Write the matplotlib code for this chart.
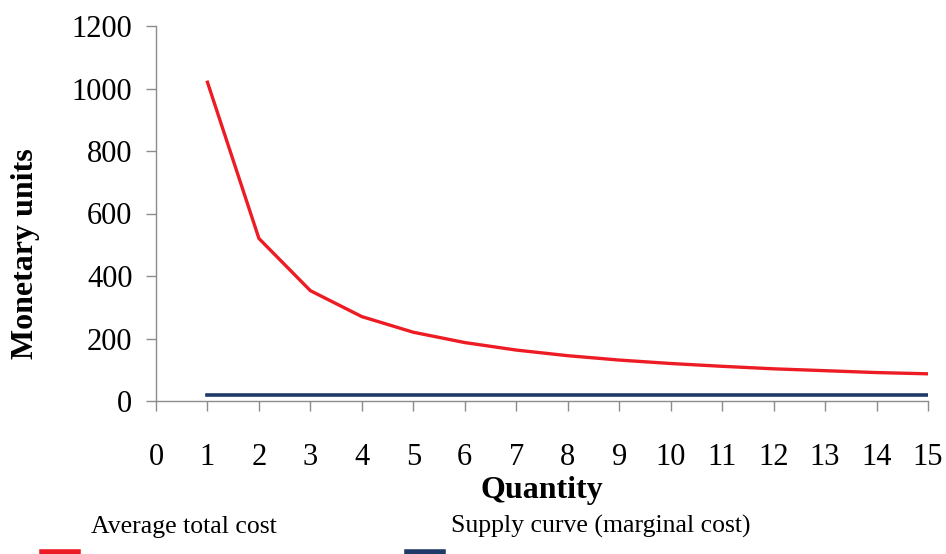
import matplotlib
matplotlib.use('Agg')
import matplotlib.pyplot as plt
from matplotlib.lines import Line2D

quantity = [1, 2, 3, 4, 5, 6, 7, 8, 9, 10, 11, 12, 13, 14, 15]
avg_total_cost = [1020, 520, 353, 270, 220, 187, 163, 145, 131, 120, 111, 103, 97, 91, 87]
marginal_cost = [20, 20, 20, 20, 20, 20, 20, 20, 20, 20, 20, 20, 20, 20, 20]
xticks = list(range(0, 16))
yticks = [0, 200, 400, 600, 800, 1000, 1200]

red = '#ED1C24'
navy = '#1F3A68'
gray = '#8C8C8C'

plt.rc('font', family='Liberation Serif')

fig = plt.figure(figsize=(9.46, 5.54), dpi=100)
ax = fig.add_axes([156 / 946, 1 - 401 / 554, (928 - 156) / 946, (401 - 26) / 554])

ax.plot(quantity, avg_total_cost, color=red, lw=2.4, solid_joinstyle='miter')
ax.plot(quantity, marginal_cost, color=navy, lw=2.6)

ax.set_xlim(0, 15)
ax.set_ylim(0, 1200)
ax.set_xticks(xticks)
ax.set_yticks(yticks)
ax.tick_params(axis='x', length=7, width=1, color=gray, pad=23, labelsize=22)
ax.tick_params(axis='y', length=7, width=1, color=gray, pad=10, labelsize=22)

for side in ['top', 'right']:
    ax.spines[side].set_visible(False)
for side in ['left', 'bottom']:
    ax.spines[side].set_color(gray)
    ax.spines[side].set_linewidth(1)

ax.set_xlabel('Quantity', fontsize=23, fontweight='bold', labelpad=3)
fig.text(25 / 946, 1 - 254 / 554, 'Monetary units', rotation=90, fontsize=23,
         fontweight='bold', ha='center', va='center')

# legend, Excel style: text above a short line sample
fig.text(91 / 946, 1 - 533 / 554, 'Average total cost', fontsize=18.5, ha='left', va='baseline')
fig.text(451 / 946, 1 - 533 / 554, 'Supply curve (marginal cost)', fontsize=18.5, ha='left', va='baseline')
fig.add_artist(Line2D([42 / 946, 78 / 946], [2 / 554, 2 / 554], color=red, lw=4, transform=fig.transFigure))
fig.add_artist(Line2D([407 / 946, 443 / 946], [2 / 554, 2 / 554], color=navy, lw=4, transform=fig.transFigure))

plt.savefig('out.png', dpi=100)
